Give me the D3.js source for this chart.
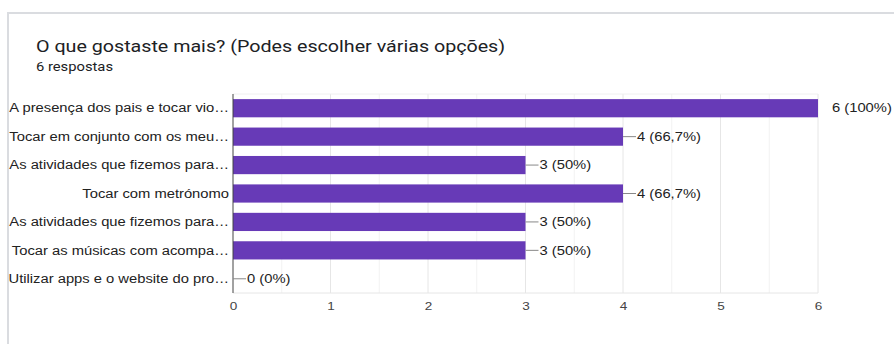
<!DOCTYPE html>
<html><head><meta charset="utf-8">
<script src="https://cdn.jsdelivr.net/npm/d3@7"></script>
<style>body{margin:0;background:#fff;} svg{display:block;}</style>
</head><body>
<script>
const categories = [
  "A presença dos pais e tocar vio…",
  "Tocar em conjunto com os meu…",
  "As atividades que fizemos para…",
  "Tocar com metrónomo",
  "As atividades que fizemos para…",
  "Tocar as músicas com acompa…",
  "Utilizar apps e o website do pro…"
];
const values = [6, 4, 3, 4, 3, 3, 0];
const valueLabels = ["6 (100%)", "4 (66,7%)", "3 (50%)", "4 (66,7%)", "3 (50%)", "3 (50%)", "0 (0%)"];
const xTicks = [0, 1, 2, 3, 4, 5, 6];
const title = "O que gostaste mais? (Podes escolher várias opções)";
const subtitle = "6 respostas";

(function(){
const W = 894, H = 344;
const SX = 1.23; // horizontal stretch seen in the reference text
const svg = d3.select("body").append("svg").attr("width", W).attr("height", H);
const font = "'Liberation Sans', Arial, sans-serif";

function txt(parent, x, y, s, size, fam, fill, anchor, dy) {
  return parent.append("text")
    .attr("transform", `translate(${x},${y}) scale(${SX},1)`)
    .attr("dy", dy || 0)
    .attr("text-anchor", anchor || "start")
    .attr("font-family", fam).attr("font-size", size).attr("fill", fill)
    .text(s);
}

// card frame
svg.append("path").attr("d", `M8,${H} L8,13 L${W},13`).attr("fill","none").attr("stroke","#dadce0").attr("stroke-width",2);

txt(svg, 36, 52, title, 16, "Roboto, Arial, sans-serif", "#202124");
txt(svg, 36, 71, subtitle, 12, "Roboto, Arial, sans-serif", "#202124");

const pl = 233, pr = 818, pt = 94, pb = 293;
const x = d3.scaleLinear().domain([0, 6]).range([pl, pr]);
const y = d3.scaleBand().domain(d3.range(categories.length)).range([pt, pb]).paddingInner(0.36).paddingOuter(0.18);

// gridlines (every 0.5)
const gridVals = d3.range(0.5, 6.01, 0.5);
svg.append("g").selectAll("line").data(gridVals).join("line")
  .attr("x1", d => x(d)).attr("x2", d => x(d)).attr("y1", pt).attr("y2", pb)
  .attr("stroke", d => Number.isInteger(d) ? "#e6e6e6" : "#f2f2f2").attr("stroke-width", 1);
svg.append("line").attr("x1", pl).attr("x2", pr).attr("y1", pt).attr("y2", pt).attr("stroke","#f0f0f0");
svg.append("line").attr("x1", pl).attr("x2", pr).attr("y1", pb).attr("y2", pb).attr("stroke","#e6e6e6");

// bars
svg.append("g").selectAll("rect").data(values).join("rect")
  .attr("x", x(0)).attr("y", (d,i) => y(i)).attr("width", d => x(d) - x(0)).attr("height", y.bandwidth())
  .attr("fill", "#673ab7");

// baseline axis
svg.append("line").attr("x1", pl).attr("x2", pl).attr("y1", pt).attr("y2", pb)
  .attr("stroke", "#444").attr("stroke-width", 1);

// category labels
const cl = svg.append("g");
categories.forEach((c,i) => {
  txt(cl, pl - 4, y(i) + y.bandwidth()/2, c, 12, font, "#222", "end", "0.35em");
});

// value labels with connectors
const lab = svg.append("g");
values.forEach((v,i) => {
  const cy = y(i) + y.bandwidth()/2;
  const x0 = x(v);
  if (v < 6) {
    lab.append("line").attr("x1", x0).attr("x2", x0 + 13).attr("y1", cy).attr("y2", cy).attr("stroke","#888");
  }
  txt(lab, x0 + 14, cy, valueLabels[i], 12, font, "#222", "start", "0.35em");
});

// x axis ticks
const ax = d3.axisBottom(x).tickValues(xTicks).tickSize(0).tickPadding(9).tickFormat(d3.format("d"));
const g = svg.append("g").attr("transform", `translate(0,${pb})`).call(ax);
g.select(".domain").remove();
g.selectAll("text").attr("font-family", font).attr("font-size", 11).attr("fill","#444")
  .attr("transform", `scale(${SX},1)`).attr("x", 0);
g.selectAll(".tick").each(function(){ /* keep scaled text centred on tick */ });
})();
</script>
</body></html>
